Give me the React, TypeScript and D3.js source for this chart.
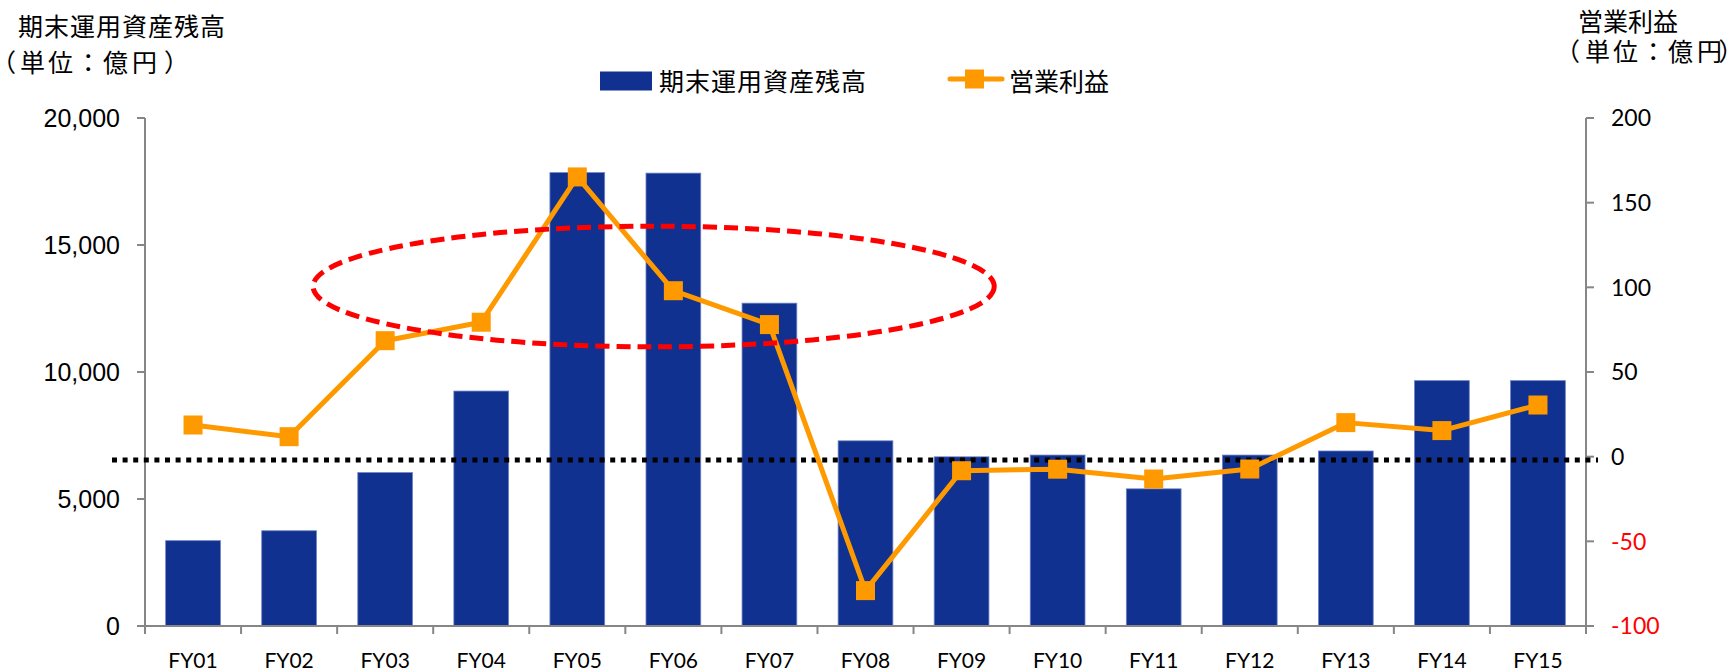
import React from "react";
import * as d3 from "d3";

const categories = ["FY01","FY02","FY03","FY04","FY05","FY06","FY07","FY08","FY09","FY10","FY11","FY12","FY13","FY14","FY15"];
const assets = [3360, 3750, 6040, 9250, 17850, 17830, 12710, 7290, 6660, 6730, 5400, 6730, 6890, 9660, 9660];
const profit = [18.7, 11.8, 68.5, 79.4, 165.2, 98, 78, -79.1, -8.3, -7.4, -13.2, -7.3, 20.1, 15.4, 30.5];
const leftTicks = [0, 5000, 10000, 15000, 20000];
const rightTicks = [-100, -50, 0, 50, 100, 150, 200];
const seriesNames = ["期末運用資産残高", "営業利益"];
const leftTitle = ["期末運用資産残高", "（単位：億円）"];
const rightTitle = ["営業利益", "（単位：億円）"];
// annotation: dotted reference line (right-axis value) and highlight ellipse (band steps / left-axis values)
const refLineValue = -2;
const ellipseAnnot = { fromStep: 1.75, toStep: 8.84, top: 15740, bottom: 10990 };

const W = 1735, H = 671;
const L = 145, R = 1586, T = 118, B = 626;
const BLUE = "#10318F";
const ORANGE = "#FF9900";
const AXIS = "#868686";
const CJK = "'Noto Sans CJK JP', sans-serif";

// per-glyph x offsets for the unit lines (proportional parentheses)
const unitOffsets = [1.5, 19, 47, 81, 102, 131, 164];
const unitOffsetsR = [0.5, 19, 47, 81, 102, 131, 153.5];

export default function App() {
  const x = d3.scaleBand<string>().domain(categories).range([L, R]).paddingInner(0.43).paddingOuter(0.215);
  const step = x.step();
  const yL = d3.scaleLinear().domain([0, 20000]).range([B, T]);
  const yR = d3.scaleLinear().domain([-100, 200]).range([B, T]);
  const fmt = d3.format(",");
  const cx = (c: string) => (x(c) as number) + x.bandwidth() / 2;
  const line = d3.line<number>().x((_, i) => cx(categories[i])).y((d) => yR(d));

  const eL = L + ellipseAnnot.fromStep * step;
  const eR = L + ellipseAnnot.toStep * step;
  const eT = yL(ellipseAnnot.top);
  const eB = yL(ellipseAnnot.bottom);

  const boundaries = d3.range(categories.length + 1).map((i) => L + i * step);
  const palt = { fontFeatureSettings: "'palt'" } as React.CSSProperties;

  return (
    <svg width={W} height={H} style={{ position: "absolute", left: 0, top: 0, background: "#fff" }}>
      {/* titles */}
      <text x={18} y={36} fontFamily={CJK} fontSize={25} letterSpacing={1} fill="#000">{leftTitle[0]}</text>
      <text x={unitOffsets.map((o) => 1 + o).join(" ")} y={71.5} fontFamily={CJK} fontSize={25} style={palt} fill="#000">{leftTitle[1]}</text>
      <text x={1578} y={31} fontFamily={CJK} fontSize={25} fill="#000">{rightTitle[0]}</text>
      <text x={unitOffsetsR.map((o) => 1566 + o).join(" ")} y={61} fontFamily={CJK} fontSize={25} style={palt} fill="#000">{rightTitle[1]}</text>

      {/* legend */}
      <rect x={600} y={71.5} width={52} height={19} fill={BLUE} />
      <text x={659} y={90.5} fontFamily={CJK} fontSize={25} letterSpacing={1} fill="#000">{seriesNames[0]}</text>
      <line x1={950} x2={1002} y1={79} y2={79} stroke={ORANGE} strokeWidth={5} strokeLinecap="round" />
      <rect x={965} y={69.5} width={19} height={19} fill={ORANGE} />
      <text x={1009} y={90.5} fontFamily={CJK} fontSize={25} fill="#000">{seriesNames[1]}</text>

      {/* bars */}
      {categories.map((c, i) => (
        <rect key={c} x={x(c)} y={yL(assets[i])} width={x.bandwidth()} height={B - yL(assets[i])}
          fill={BLUE} stroke="#6f83c4" strokeWidth={0.8} />
      ))}

      {/* axes */}
      <line x1={L} x2={L} y1={T} y2={B} stroke={AXIS} strokeWidth={2} />
      <line x1={R} x2={R} y1={T} y2={B} stroke={AXIS} strokeWidth={2} />
      <line x1={L - 8} x2={R + 8} y1={B} y2={B} stroke={AXIS} strokeWidth={2} />
      {leftTicks.map((t) => (
        <g key={"l" + t}>
          <line x1={L - 8} x2={L} y1={yL(t)} y2={yL(t)} stroke={AXIS} strokeWidth={2} />
          <text x={120} y={yL(t) + 9} textAnchor="end" fontFamily="'Liberation Sans', Arial, sans-serif" fontSize={25} fill="#000">{fmt(t)}</text>
        </g>
      ))}
      {rightTicks.map((t) => (
        <g key={"r" + t}>
          <line x1={R} x2={R + 8} y1={yR(t)} y2={yR(t)} stroke={AXIS} strokeWidth={2} />
          <text x={1611} y={yR(t) + 8.3} textAnchor="start" fontFamily="Lato, sans-serif" fontSize={23} fill={t < 0 ? "#FF0000" : "#000"}>{t}</text>
        </g>
      ))}
      {boundaries.map((bx, i) => (
        <line key={"b" + i} x1={bx} x2={bx} y1={B} y2={B + 8} stroke={AXIS} strokeWidth={2} />
      ))}
      {categories.map((c) => (
        <text key={"x" + c} x={cx(c)} y={668} textAnchor="middle" fontFamily="Lato, sans-serif" fontSize={21} fill="#000">{c}</text>
      ))}

      {/* dotted reference line */}
      <line x1={112} x2={1598} y1={yR(refLineValue)} y2={yR(refLineValue)} stroke="#000" strokeWidth={5} strokeDasharray="5 5.6" />

      {/* profit line */}
      <path d={line(profit) || ""} fill="none" stroke={ORANGE} strokeWidth={5} strokeLinejoin="round" />
      {categories.map((c, i) => (
        <rect key={"m" + c} x={cx(c) - 9.5} y={yR(profit[i]) - 9.5} width={19} height={19} fill={ORANGE} />
      ))}

      {/* highlight ellipse */}
      <ellipse cx={(eL + eR) / 2} cy={(eT + eB) / 2} rx={(eR - eL) / 2} ry={(eB - eT) / 2}
        fill="none" stroke="#FF0000" strokeWidth={5} strokeDasharray="14 7" />
    </svg>
  );
}
